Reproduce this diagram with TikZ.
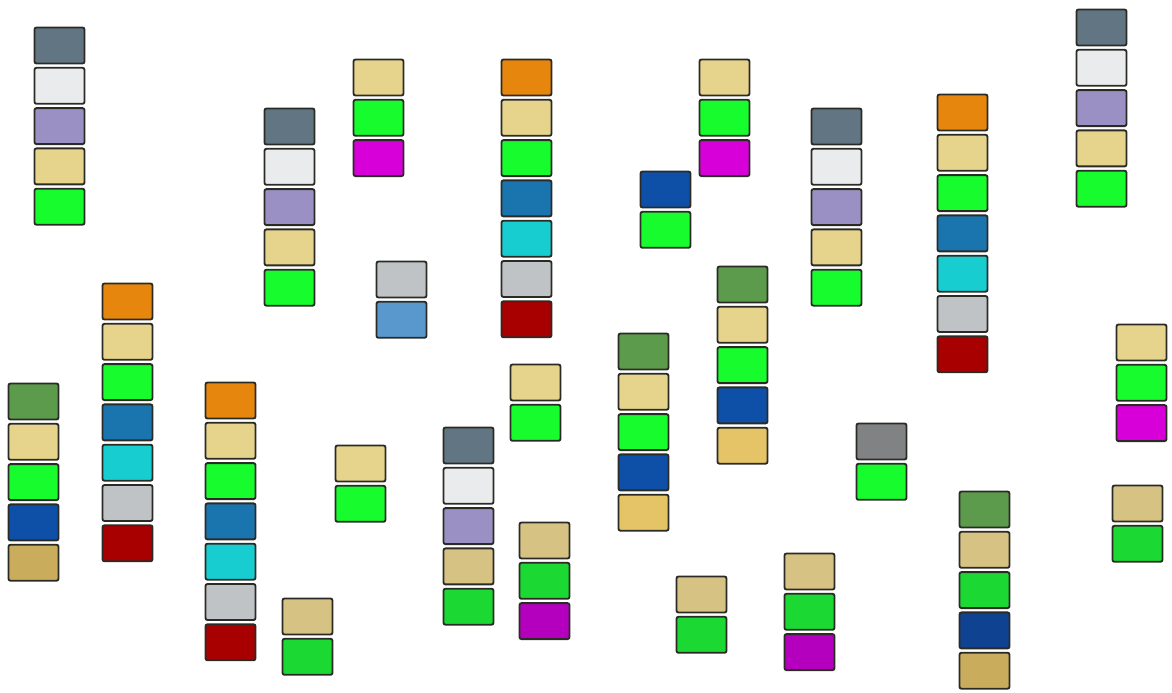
\documentclass[tikz,border=0pt]{standalone}
\definecolor{slate}{HTML}{617682}
\definecolor{light}{HTML}{E9EBED}
\definecolor{lav}{HTML}{9B90C3}
\definecolor{tan}{HTML}{E6D38C}
\definecolor{tanB}{HTML}{D6C283}
\definecolor{grn}{HTML}{16FC2C}
\definecolor{grnB}{HTML}{1BD833}
\definecolor{mag}{HTML}{D800D8}
\definecolor{magB}{HTML}{B400BE}
\definecolor{orng}{HTML}{E6860C}
\definecolor{blu}{HTML}{1A74AE}
\definecolor{cyn}{HTML}{17CDD0}
\definecolor{lgray}{HTML}{C0C3C6}
\definecolor{dred}{HTML}{A80000}
\definecolor{dblue}{HTML}{0E4FA8}
\definecolor{dblueB}{HTML}{0F4290}
\definecolor{olive}{HTML}{5C9A4C}
\definecolor{gold}{HTML}{E5C467}
\definecolor{goldB}{HTML}{C9AC5C}
\definecolor{steel}{HTML}{5898CC}
\definecolor{midgray}{HTML}{808284}
\definecolor{edge}{HTML}{2B2B26}
\tikzset{cell/.style={draw=edge,line width=1.4pt,rounded corners=1.5pt,
  minimum width=37.5pt,minimum height=27pt,inner sep=0pt,outer sep=0pt}}
\newcommand{\stackcol}[4]{\foreach \c [count=\i] in {#4}{\node[cell,fill=\c] (#1-\i) at ({#2+25.5},{#3+18.5+(\i-1)*40.3}) {};}}
\begin{document}
\begin{tikzpicture}[x=0.75pt,y=-0.75pt]
\useasboundingbox (0,0) rectangle (1172,693);
\stackcol{a}{34}{27}{slate,light,lav,tan,grn}
\stackcol{b}{264}{108}{slate,light,lav,tan,grn}
\stackcol{c}{353}{59}{tan,grn,mag}
\stackcol{d}{376}{261}{lgray,steel}
\stackcol{e}{501}{59}{orng,tan,grn,blu,cyn,lgray,dred}
\stackcol{f}{640}{171}{dblue,grn}
\stackcol{g}{699}{59}{tan,grn,mag}
\stackcol{h}{717}{266}{olive,tan,grn,dblue,gold}
\stackcol{i}{811}{108}{slate,light,lav,tan,grn}
\stackcol{j}{937}{94}{orng,tan,grn,blu,cyn,lgray,dred}
\stackcol{k}{1076}{9}{slate,light,lav,tan,grn}
\stackcol{l}{1116}{324}{tan,grn,mag}
\stackcol{m}{8}{383}{olive,tan,grn,dblue,goldB}
\stackcol{n}{102}{283}{orng,tan,grn,blu,cyn,lgray,dred}
\stackcol{o}{205}{382}{orng,tan,grn,blu,cyn,lgray,dred}
\stackcol{p}{335}{445}{tan,grn}
\stackcol{q}{282}{598}{tanB,grnB}
\stackcol{r}{443}{427}{slate,light,lav,tanB,grnB}
\stackcol{s}{510}{364}{tan,grn}
\stackcol{t}{519}{522}{tanB,grnB,magB}
\stackcol{u}{618}{333}{olive,tan,grn,dblue,gold}
\stackcol{v}{676}{576}{tanB,grnB}
\stackcol{w}{784}{553}{tanB,grnB,magB}
\stackcol{x}{856}{423}{midgray,grn}
\stackcol{y}{959}{491}{olive,tanB,grnB,dblueB,goldB}
\stackcol{z}{1112}{485}{tanB,grnB}
\end{tikzpicture}
\end{document}
